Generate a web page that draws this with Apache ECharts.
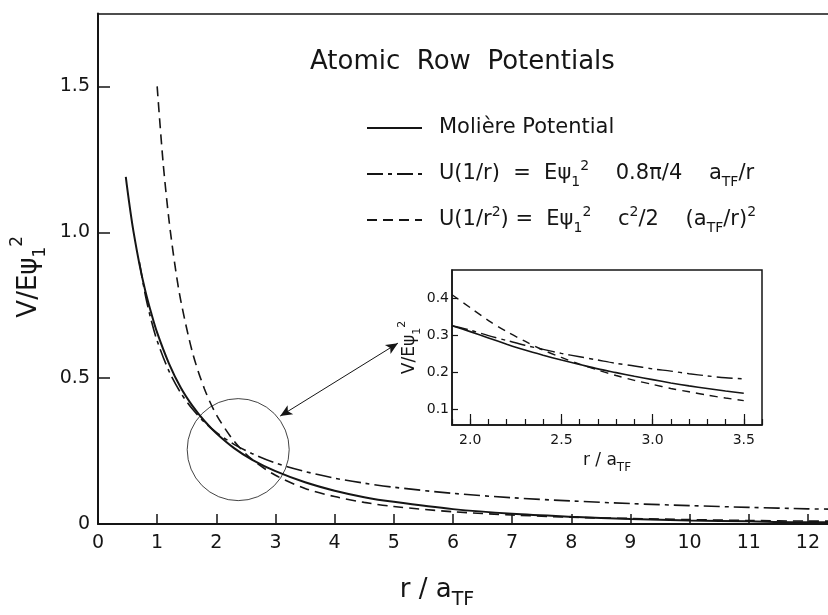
<!DOCTYPE html>
<html><head><meta charset="utf-8">
<script src="https://cdn.jsdelivr.net/npm/echarts@6/dist/echarts.min.js"></script>
<style>html,body{margin:0;padding:0;background:#fff}#c{width:828px;height:615px}</style>
</head><body><div id="c"></div>
<script>
// ---- main plot data (r / a_TF , V / E psi1^2) ----
const moliereR = [0.47,0.5,0.55,0.6,0.7,0.8,0.9,1.0,1.2,1.4,1.6,1.8,2.0,2.3,2.6,3.0,3.5,4,4.5,5,6,7,8,9,10,11,12,12.34];
const moliereV = [1.19,1.142,1.068,1.002,0.891,0.799,0.723,0.656,0.550,0.467,0.404,0.353,0.311,0.260,0.221,0.181,0.143,0.114,0.092,0.076,0.051,0.035,0.025,0.017,0.012,0.009,0.006,0.006];
const inv1R = [0.7,0.8,0.9,1.0,1.2,1.4,1.6,1.8,2.0,2.3,2.6,3.0,3.5,4,4.5,5,6,7,8,9,10,11,12,12.34];
const inv1V = [0.898,0.785,0.698,0.628,0.524,0.449,0.393,0.349,0.314,0.273,0.242,0.209,0.180,0.157,0.140,0.126,0.105,0.090,0.079,0.070,0.063,0.057,0.052,0.051];
const inv2R = [1.0,1.1,1.2,1.3,1.4,1.6,1.8,2.0,2.3,2.6,3.0,3.5,4,4.5,5,6,7,8,9,10,11,12,12.34];
const inv2V = [1.5,1.240,1.042,0.888,0.765,0.586,0.463,0.375,0.284,0.222,0.167,0.122,0.094,0.074,0.060,0.042,0.031,0.023,0.019,0.015,0.012,0.010,0.010];

// ---- inset data ----
const insetR = [1.9,2.0,2.1,2.2,2.3,2.4,2.5,2.6,2.7,2.8,2.9,3.0,3.1,3.2,3.3,3.4,3.5];
const insetMoliere = [0.326,0.310,0.293,0.276,0.260,0.246,0.233,0.221,0.209,0.199,0.189,0.180,0.171,0.163,0.156,0.149,0.143];
const insetInv1 = [0.326,0.314,0.299,0.286,0.273,0.262,0.251,0.242,0.233,0.224,0.217,0.209,0.203,0.196,0.190,0.185,0.182];
const insetInv2 = [0.410,0.375,0.340,0.310,0.284,0.260,0.240,0.222,0.206,0.191,0.178,0.167,0.156,0.147,0.138,0.130,0.123];
const insetXMajor = [2.0,2.5,3.0,3.5];
const insetYTicks = [0.1,0.2,0.3,0.4];

// ---- annotation (zoom circle and arrow, in data units of main plot) ----
const zoomCircle = [2.37, 0.255];
const arrowFrom = [3.08, 0.37];
const arrowTo = [5.07, 0.62];

const names = ['Molière Potential', 'U(1/r) = Eψ₁² 0.8π/4 a_TF/r', 'U(1/r²)= Eψ₁² c²/2 (a_TF/r)²'];
const legendRich = {};
legendRich[names[0]] = 'Molière Potential';
legendRich[names[1]] = 'U(1/r)  =  E{b|ψ}{sb|1}{sp|2}    0.8π/4    a{sb|TF}/r';
legendRich[names[2]] = 'U(1/r{sp|2}) =  E{b|ψ}{sb|1}{sp|2}    c{sp|2}/2    (a{sb|TF}/r){sp|2}';

const FONT = 'DejaVu Sans';
const INK = '#151515';
const pairs = (xs, ys) => xs.map((x, i) => [x, ys[i]]);
const richSet = (base, small) => ({
  b: {fontSize: base, fontFamily: FONT, color: INK},
  sb: {fontSize: small, fontFamily: FONT, color: INK, verticalAlign: 'bottom'},
  sp: {fontSize: small, fontFamily: FONT, color: INK, verticalAlign: 'top'}
});

const chart = echarts.init(document.getElementById('c'));
const styles = [
  {color: INK, width: 2, type: 'solid'},
  {color: INK, width: 1.6, type: [16, 5, 4, 5]},
  {color: INK, width: 1.6, type: [10, 6]}
];
const insetStyles = [
  {color: INK, width: 1.6, type: 'solid'},
  {color: INK, width: 1.4, type: [16, 5, 4, 5]},
  {color: INK, width: 1.4, type: [8, 6]}
];
const lineSeries = (name, xi, yi, data, ls) => ({
  type: 'line', name: name, xAxisIndex: xi, yAxisIndex: yi, data: data, symbol: 'none',
  smooth: 0.3, lineStyle: ls, itemStyle: {color: INK}, emphasis: {disabled: true}
});

const option = {
  animation: false,
  backgroundColor: '#fff',
  textStyle: {fontFamily: FONT, color: INK},
  title: {
    text: 'Atomic  Row  Potentials', left: 305, top: 44,
    textStyle: {fontFamily: FONT, fontSize: 26, fontWeight: 'normal', color: INK}
  },
  legend: {
    orient: 'vertical', left: 361, top: 108, itemWidth: 55, itemHeight: 14, itemGap: 16,
    data: names, selectedMode: false,
    itemStyle: {opacity: 0},
    formatter: n => legendRich[n],
    textStyle: {fontFamily: FONT, fontSize: 21, color: INK, lineHeight: 30, padding: [0, 0, 0, 12], rich: richSet(21, 14)}
  },
  grid: [
    {left: 98, top: 13.5, right: 0, bottom: 72},
    {left: 452, top: 270, width: 310, height: 155, show: true, borderColor: INK, borderWidth: 1.5, backgroundColor: 'rgba(0,0,0,0)'}
  ],
  xAxis: [
    {gridIndex: 0, type: 'value', min: 0, max: 12.34, interval: 1,
      axisLine: {lineStyle: {color: INK, width: 2}},
      axisTick: {inside: true, length: 10, lineStyle: {color: INK, width: 1.5}},
      axisLabel: {fontSize: 19, margin: 10, color: INK, showMaxLabel: false, formatter: v => String(Math.round(v))},
      splitLine: {show: false},
      name: 'r / a{sb|TF}', nameLocation: 'middle', nameGap: 46,
      nameTextStyle: {fontSize: 26, color: INK, lineHeight: 40, padding: [0, 52, 0, 0], rich: richSet(26, 19)}},
    {gridIndex: 0, type: 'value', position: 'top', min: 0, max: 12.34,
      axisLine: {show: true, lineStyle: {color: INK, width: 1.5}},
      axisTick: {show: false}, axisLabel: {show: false}, splitLine: {show: false}},
    {gridIndex: 1, type: 'value', position: 'bottom', min: 1.9, max: 3.6, interval: 0.1,
      axisLine: {lineStyle: {color: INK, width: 1.5}},
      axisTick: {inside: true, length: 6, lineStyle: {color: INK, width: 1.2}},
      axisLabel: {show: false}, splitLine: {show: false}},
    {gridIndex: 1, type: 'value', position: 'bottom', min: 1.9, max: 3.6,
      axisLine: {show: false},
      axisTick: {inside: true, length: 11, customValues: insetXMajor, lineStyle: {color: INK, width: 1.2}},
      axisLabel: {customValues: insetXMajor, fontSize: 14, margin: 8, color: INK, formatter: v => v.toFixed(1)},
      splitLine: {show: false},
      name: 'r / a{sb|TF}', nameLocation: 'middle', nameGap: 21,
      nameTextStyle: {fontSize: 17, color: INK, lineHeight: 26, rich: richSet(17, 12)}}
  ],
  yAxis: [
    {gridIndex: 0, type: 'value', min: 0, max: 1.75, interval: 0.5,
      axisLine: {show: true, lineStyle: {color: INK, width: 2}},
      axisTick: {show: true, inside: true, length: 12, lineStyle: {color: INK, width: 1.5}},
      axisLabel: {fontSize: 19, margin: 8, color: INK, showMaxLabel: false, formatter: v => v === 0 ? '0' : v.toFixed(1)},
      splitLine: {show: false},
      name: 'V/E{b|ψ}{sb|1}{sp|2}', nameLocation: 'middle', nameGap: 31, nameRotate: 90,
      nameTextStyle: {fontSize: 26, color: INK, lineHeight: 40, padding: [0, 16, 0, 0], rich: richSet(26, 17)}},
    {gridIndex: 1, type: 'value', min: 0.057, max: 0.477,
      axisLine: {show: true, lineStyle: {color: INK, width: 1.5}},
      axisTick: {show: true, inside: true, length: 6, customValues: insetYTicks, lineStyle: {color: INK, width: 1.2}},
      axisLabel: {customValues: insetYTicks, fontSize: 14, margin: 3, color: INK, formatter: v => v.toFixed(1)},
      splitLine: {show: false},
      name: 'V/E{b|ψ}{sb|1}{sp|2}', nameLocation: 'middle', nameGap: 22, nameRotate: 90,
      nameTextStyle: {fontSize: 17, color: INK, lineHeight: 26, rich: richSet(17, 11)}}
  ],
  series: [
    lineSeries(names[0], 0, 0, pairs(moliereR, moliereV), styles[0]),
    lineSeries(names[1], 0, 0, pairs(inv1R, inv1V), styles[1]),
    lineSeries(names[2], 0, 0, pairs(inv2R, inv2V), styles[2]),
    lineSeries(names[0], 2, 1, pairs(insetR, insetMoliere), insetStyles[0]),
    lineSeries(names[1], 2, 1, pairs(insetR, insetInv1), insetStyles[1]),
    lineSeries(names[2], 2, 1, pairs(insetR, insetInv2), insetStyles[2]),
    {type: 'scatter', xAxisIndex: 0, yAxisIndex: 0, data: [zoomCircle], symbol: 'circle', symbolSize: 102, silent: true,
      itemStyle: {color: 'rgba(0,0,0,0)', borderColor: INK, borderWidth: 1}, emphasis: {disabled: true},
      markLine: {silent: true, symbol: ['arrow', 'arrow'], symbolSize: [8, 12], label: {show: false},
        lineStyle: {color: INK, width: 1, type: 'solid'}, emphasis: {disabled: true},
        data: [[{coord: arrowFrom}, {coord: arrowTo}]]}}
  ]
};
chart.setOption(option);
</script></body></html>
